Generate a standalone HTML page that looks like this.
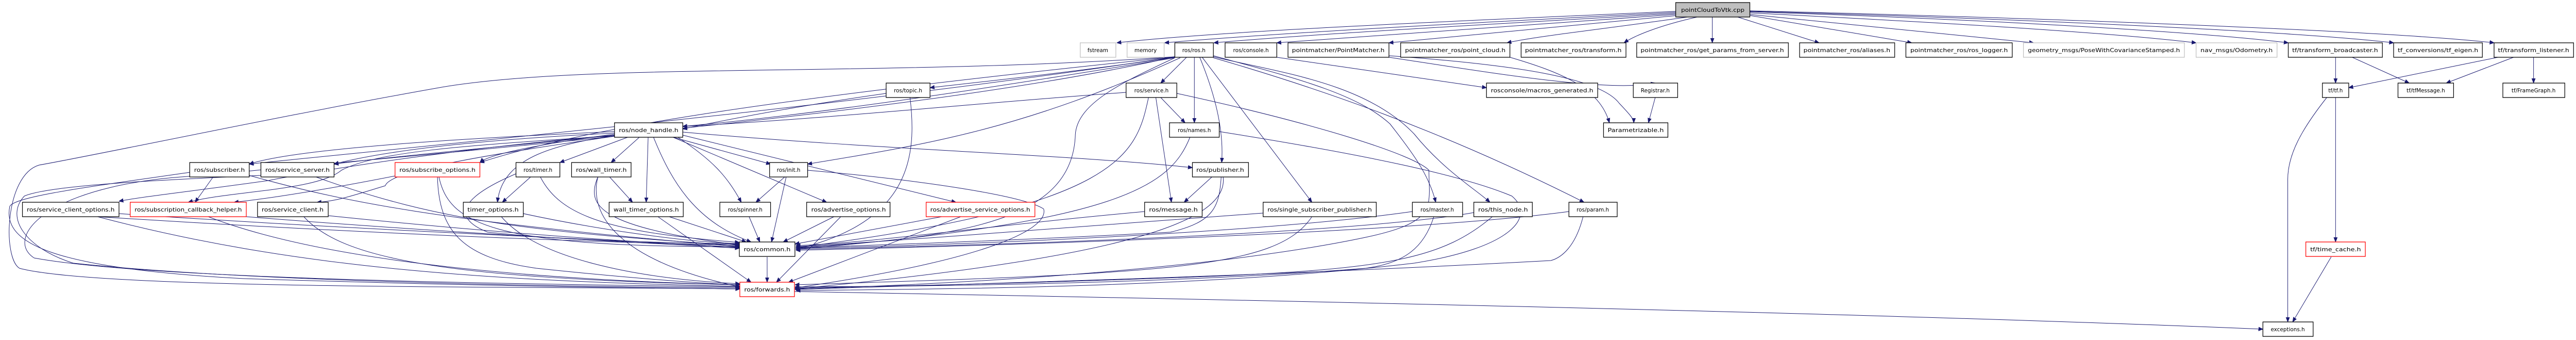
<!DOCTYPE html>
<html><head><meta charset="utf-8"><style>
html,body{margin:0;padding:0;background:#fff;width:100%;height:100%;overflow:hidden;}
svg{position:fixed;left:0;top:0;width:100vw;height:100vh;display:block;overflow:hidden}
text{font-family:"DejaVu Sans","Liberation Sans",sans-serif;font-size:11px;fill:#000;text-anchor:middle}
.n{fill:#fff;stroke:#000;stroke-width:1.3}
.g{fill:#fff;stroke:#bfbfbf;stroke-width:1.3}
.r{fill:#fff;stroke:#ff0000;stroke-width:1.3}
.root{fill:#bfbfbf;stroke:#000;stroke-width:1.3}
path{fill:none;stroke:#191970;stroke-width:1;marker-end:url(#a)}
</style></head><body>
<svg viewBox="0 0 5282 659" preserveAspectRatio="none" xmlns="http://www.w3.org/2000/svg">
<defs><marker id="a" viewBox="0 0 10 10" refX="10" refY="5" markerWidth="9" markerHeight="9" markerUnits="userSpaceOnUse" orient="auto"><path d="M0,1 L10,5 L0,9 z" style="fill:#191970;stroke:#191970;marker-end:none"/></marker></defs>

<g>
<path d="M3436,22 C3000,40 2500,60 2290,83"/>
<path d="M3436,24 C3000,45 2600,65 2388,83"/>
<path d="M3436,26 C3100,45 2700,65 2489,83"/>
<path d="M3436,28 C3100,50 2800,70 2618,83"/>
<path d="M3440,30 C3200,50 3000,70 2848,83"/>
<path d="M3460,33 C3300,55 3150,70 3090,83"/>
<path d="M3480,33 C3400,50 3350,70 3330,83"/>
<path d="M3511,33 L3511,83"/>
<path d="M3563,33 L3730,83"/>
<path d="M3588,30 L3920,83"/>
<path d="M3588,28 L4170,83"/>
<path d="M3588,25 C3900,40 4300,60 4503,83"/>
<path d="M3588,23 C4000,35 4500,60 4692,83"/>
<path d="M3588,22 C4100,35 4700,60 4908,83"/>
<path d="M3588,21 C4200,35 4900,60 5114,83"/>
</g>

<g>
<path d="M2433,111 L2380,161"/>
<path d="M2449,111 L2449,238"/>
<path d="M2460,111 C2490,180 2510,250 2505,315"/>
<path d="M2465,111 L2690,392"/>
<path d="M2488,108 C2650,150 2780,180 2850,240 C2900,300 2930,340 2944,392"/>
<path d="M2488,110 C2620,140 2800,160 2900,260 C2960,330 3030,370 3055,392"/>
<path d="M2488,112 C2700,170 2950,250 3248,392"/>
<path d="M2409,112 C2100,160 1700,220 1400,245"/>
<path d="M2409,111 C2200,140 2000,160 1907,170"/>
<path d="M2420,112 C2100,250 1900,280 1656,318"/>
<path d="M2409,110 C1800,200 900,280 511,318"/>
<path d="M2409,110 C1900,220 1000,280 685,318"/>
<path d="M2409,110 C1500,200 1200,250 984,315"/>
<path d="M2409,112 C2300,160 2210,200 2205,260 C2200,420 2000,460 1632,480"/>
<path d="M2409,110 C1800,150 1200,120 900,170 C600,220 200,300 80,320 C10,340 5,500 40,520 C200,560 1000,555 1517,560"/>
<path d="M2618,111 L3048,170"/>
<path d="M2848,111 C3050,140 3300,180 3394,161"/>
<path d="M2848,108 C3100,125 3280,150 3320,200 C3340,220 3350,230 3350,238"/>
<path d="M3096,111 C3200,140 3280,170 3300,238"/>
</g>

<g>
<path d="M2380,189 L2430,238"/>
<path d="M2370,189 L2402,392"/>
<path d="M2309,179 C2000,200 1700,230 1400,245"/>
<path d="M2413,181 C2700,240 2900,300 2930,330 C2930,400 2950,430 2800,460 C2500,520 2000,550 1630,560"/>
<path d="M2355,189 C2330,300 2300,400 1632,480"/>
<path d="M1817,181 C1600,210 1450,240 1400,250"/>
<path d="M1866,189 C1880,300 1870,430 1632,483"/>
<path d="M2440,266 C2400,360 2300,430 1632,483"/>
<path d="M2500,255 C2800,300 3000,340 3100,380 C3150,420 3100,480 2900,510 C2500,555 2000,560 1632,563"/>
<path d="M3394,189 L3380,238"/>
</g>

<g>
<path d="M1260,255 C900,270 600,290 511,318"/>
<path d="M1260,258 C1000,270 800,290 685,318"/>
<path d="M1260,260 C1100,280 1000,300 984,315"/>
<path d="M1287,266 L1148,315"/>
<path d="M1311,266 L1253,315"/>
<path d="M1329,266 L1325,392"/>
<path d="M1260,262 C1150,280 1030,300 1020,392"/>
<path d="M1380,266 L1580,318"/>
<path d="M1390,266 C1460,310 1490,340 1520,392"/>
<path d="M1380,266 L1695,392"/>
<path d="M1400,262 L1960,392"/>
<path d="M1400,256 C1800,290 2200,300 2445,325"/>
<path d="M1260,264 C1000,300 800,330 790,360 C720,380 690,390 650,392"/>
<path d="M1260,263 C1000,280 780,290 700,330 C650,370 470,370 386,392"/>
<path d="M1260,262 C900,290 600,340 550,350 C400,370 300,380 244,390"/>
<path d="M1340,266 C1380,360 1430,430 1540,469"/>
<path d="M1260,264 C900,300 500,330 430,340 C100,350 5,460 70,500 C300,540 1000,550 1517,556"/>
</g>

<g>
<path d="M437,343 L400,392"/>
<path d="M511,340 C700,390 900,430 1516,478"/>
<path d="M389,334 C200,360 30,380 20,400 C5,470 100,520 500,540 C1000,555 1300,558 1517,560"/>
<path d="M648,343 C900,430 1100,450 1516,476"/>
<path d="M535,340 C300,350 100,360 50,380 C10,420 50,480 150,510 C500,545 1100,555 1517,558"/>
<path d="M810,341 C600,380 500,390 480,392"/>
<path d="M897,343 C900,450 950,500 1100,520 C1300,540 1450,550 1517,552"/>
<path d="M900,343 C920,430 1000,480 1516,478"/>
<path d="M1088,343 L1030,392"/>
<path d="M1060,336 C950,380 920,420 1000,450 C1200,470 1400,470 1516,473"/>
<path d="M1108,343 C1150,420 1250,450 1516,470"/>
<path d="M1226,343 C1200,400 1230,440 1516,475"/>
<path d="M1226,343 C1210,400 1240,500 1517,556"/>
<path d="M1250,343 L1297,392"/>
<path d="M1609,343 L1550,392"/>
<path d="M1612,343 L1582,469"/>
<path d="M1656,330 C1900,350 2100,380 2140,405 C2150,440 2050,500 1630,558"/>
<path d="M2485,343 L2428,392"/>
<path d="M2504,343 C2500,400 2490,430 2400,450 C2000,470 1700,478 1632,480"/>
<path d="M2508,343 C2520,430 2300,500 1630,560"/>
</g>
<g>
<path d="M200,420 C700,450 1200,470 1516,475"/>
<path d="M244,414 C800,450 1300,465 1516,480"/>
<path d="M200,420 C600,520 1000,545 1517,555"/>
<path d="M505,420 C900,450 1300,470 1516,481"/>
<path d="M427,420 C700,520 1200,545 1517,552"/>
<path d="M673,418 C1000,450 1300,470 1516,479"/>
<path d="M623,420 C700,500 900,540 1517,552"/>
<path d="M1073,414 C1200,440 1400,470 1516,472"/>
<path d="M1028,420 C1100,500 1300,540 1517,550"/>
<path d="M1372,420 L1530,469"/>
<path d="M1349,420 L1540,547"/>
<path d="M1536,420 L1558,469"/>
<path d="M1710,420 L1606,469"/>
<path d="M1724,420 L1592,547"/>
<path d="M1931,420 L1630,473"/>
<path d="M1970,420 L1617,547"/>
<path d="M2347,410 C2000,440 1800,470 1632,476"/>
<path d="M2590,413 C2200,440 1800,470 1632,478"/>
<path d="M2690,420 C2620,520 2400,530 1630,552"/>
<path d="M2896,410 C2600,450 2000,475 1632,481"/>
<path d="M2940,420 C2920,480 2880,510 2800,520 C2400,550 1900,555 1630,556"/>
<path d="M3022,412 C2800,450 2100,475 1632,483"/>
<path d="M3060,420 C2960,500 2850,520 2500,535 C2100,550 1800,555 1630,558"/>
<path d="M3217,410 C2900,450 2100,475 1632,485"/>
<path d="M3246,420 C3230,480 3200,500 3180,505 C2600,535 2000,550 1630,561"/>
<path d="M1573,498 L1573,547"/>
<path d="M1629,565 C2500,580 3800,605 4640,638"/>
</g>

<g>
<path d="M4789,111 L4789,161"/>
<path d="M4823,111 L4940,161"/>
<path d="M5122,111 L4816,170"/>
<path d="M5154,111 L5016,161"/>
<path d="M5195,111 L5195,161"/>
<path d="M4789,189 L4789,469"/>
<path d="M4771,189 C4720,250 4690,300 4691,350 L4691,624"/>
<path d="M4780,498 L4701,624"/>
</g>

<g>
<rect class="root" x="3436" y="5" width="152" height="28"/><text x="3512" y="23" textLength="130" lengthAdjust="spacingAndGlyphs">pointCloudToVtk.cpp</text>

<rect class="g" x="2215" y="83" width="73" height="28"/><text x="2251" y="101">fstream</text>
<rect class="g" x="2311" y="83" width="76" height="28"/><text x="2349" y="101">memory</text>
<rect class="n" x="2409" y="83" width="79" height="28"/><text x="2448" y="101">ros/ros.h</text>
<rect class="n" x="2512" y="83" width="106" height="28"/><text x="2565" y="101">ros/console.h</text>
<rect class="n" x="2641" y="83" width="207" height="28"/><text x="2744" y="101" textLength="190" lengthAdjust="spacingAndGlyphs">pointmatcher/PointMatcher.h</text>
<rect class="n" x="2872" y="83" width="224" height="28"/><text x="2984" y="101" textLength="206" lengthAdjust="spacingAndGlyphs">pointmatcher_ros/point_cloud.h</text>
<rect class="n" x="3119" y="83" width="215" height="28"/><text x="3226" y="101" textLength="198" lengthAdjust="spacingAndGlyphs">pointmatcher_ros/transform.h</text>
<rect class="n" x="3356" y="83" width="311" height="28"/><text x="3511" y="101" textLength="294" lengthAdjust="spacingAndGlyphs">pointmatcher_ros/get_params_from_server.h</text>
<rect class="n" x="3690" y="83" width="195" height="28"/><text x="3787" y="101" textLength="178" lengthAdjust="spacingAndGlyphs">pointmatcher_ros/aliases.h</text>
<rect class="n" x="3908" y="83" width="218" height="28"/><text x="4017" y="101" textLength="200" lengthAdjust="spacingAndGlyphs">pointmatcher_ros/ros_logger.h</text>
<rect class="g" x="4149" y="83" width="330" height="28"/><text x="4314" y="101" textLength="312" lengthAdjust="spacingAndGlyphs">geometry_msgs/PoseWithCovarianceStamped.h</text>
<rect class="g" x="4503" y="83" width="166" height="28"/><text x="4586" y="101" textLength="148" lengthAdjust="spacingAndGlyphs">nav_msgs/Odometry.h</text>
<rect class="n" x="4692" y="83" width="193" height="28"/><text x="4788" y="101" textLength="176" lengthAdjust="spacingAndGlyphs">tf/transform_broadcaster.h</text>
<rect class="n" x="4908" y="83" width="182" height="28"/><text x="4999" y="101" textLength="165" lengthAdjust="spacingAndGlyphs">tf_conversions/tf_eigen.h</text>
<rect class="n" x="5114" y="83" width="163" height="28"/><text x="5195" y="101" textLength="146" lengthAdjust="spacingAndGlyphs">tf/transform_listener.h</text>

<rect class="n" x="1817" y="161" width="90" height="28"/><text x="1862" y="179">ros/topic.h</text>
<rect class="n" x="2309" y="161" width="104" height="28"/><text x="2361" y="179">ros/service.h</text>
<rect class="n" x="3048" y="161" width="228" height="28"/><text x="3162" y="179" textLength="210" lengthAdjust="spacingAndGlyphs">rosconsole/macros_generated.h</text>
<rect class="n" x="3349" y="161" width="91" height="28"/><text x="3394" y="179">Registrar.h</text>
<rect class="n" x="4762" y="161" width="54" height="28"/><text x="4789" y="179">tf/tf.h</text>
<rect class="n" x="4917" y="161" width="114" height="28"/><text x="4974" y="179">tf/tfMessage.h</text>
<rect class="n" x="5132" y="161" width="127" height="28"/><text x="5195" y="179">tf/FrameGraph.h</text>

<rect class="n" x="1260" y="238" width="140" height="28"/><text x="1330" y="256" textLength="122" lengthAdjust="spacingAndGlyphs">ros/node_handle.h</text>
<rect class="n" x="2398" y="238" width="102" height="28"/><text x="2449" y="256">ros/names.h</text>
<rect class="n" x="3288" y="238" width="132" height="28"/><text x="3354" y="256" textLength="115" lengthAdjust="spacingAndGlyphs">Parametrizable.h</text>

<rect class="n" x="389" y="315" width="122" height="28"/><text x="450" y="333" textLength="104" lengthAdjust="spacingAndGlyphs">ros/subscriber.h</text>
<rect class="n" x="535" y="315" width="150" height="28"/><text x="610" y="333" textLength="132" lengthAdjust="spacingAndGlyphs">ros/service_server.h</text>
<rect class="r" x="810" y="315" width="174" height="28"/><text x="897" y="333" textLength="156" lengthAdjust="spacingAndGlyphs">ros/subscribe_options.h</text>
<rect class="n" x="1058" y="315" width="90" height="28"/><text x="1103" y="333">ros/timer.h</text>
<rect class="n" x="1172" y="315" width="122" height="28"/><text x="1233" y="333" textLength="104" lengthAdjust="spacingAndGlyphs">ros/wall_timer.h</text>
<rect class="n" x="1578" y="315" width="78" height="28"/><text x="1617" y="333">ros/init.h</text>
<rect class="n" x="2445" y="315" width="115" height="28"/><text x="2502" y="333" textLength="98" lengthAdjust="spacingAndGlyphs">ros/publisher.h</text>

<rect class="n" x="46" y="392" width="198" height="28"/><text x="145" y="410" textLength="180" lengthAdjust="spacingAndGlyphs">ros/service_client_options.h</text>
<rect class="r" x="267" y="392" width="238" height="28"/><text x="386" y="410" textLength="220" lengthAdjust="spacingAndGlyphs">ros/subscription_callback_helper.h</text>
<rect class="n" x="528" y="392" width="145" height="28"/><text x="600" y="410" textLength="127" lengthAdjust="spacingAndGlyphs">ros/service_client.h</text>
<rect class="n" x="950" y="392" width="123" height="28"/><text x="1011" y="410" textLength="105" lengthAdjust="spacingAndGlyphs">timer_options.h</text>
<rect class="n" x="1249" y="392" width="152" height="28"/><text x="1325" y="410" textLength="134" lengthAdjust="spacingAndGlyphs">wall_timer_options.h</text>
<rect class="n" x="1476" y="392" width="104" height="28"/><text x="1528" y="410">ros/spinner.h</text>
<rect class="n" x="1654" y="392" width="171" height="28"/><text x="1740" y="410" textLength="153" lengthAdjust="spacingAndGlyphs">ros/advertise_options.h</text>
<rect class="r" x="1899" y="392" width="223" height="28"/><text x="2010" y="410" textLength="205" lengthAdjust="spacingAndGlyphs">ros/advertise_service_options.h</text>
<rect class="n" x="2347" y="392" width="118" height="28"/><text x="2406" y="410" textLength="100" lengthAdjust="spacingAndGlyphs">ros/message.h</text>
<rect class="n" x="2590" y="392" width="232" height="28"/><text x="2706" y="410" textLength="214" lengthAdjust="spacingAndGlyphs">ros/single_subscriber_publisher.h</text>
<rect class="n" x="2896" y="392" width="103" height="28"/><text x="2947" y="410">ros/master.h</text>
<rect class="n" x="3022" y="392" width="120" height="28"/><text x="3082" y="410" textLength="102" lengthAdjust="spacingAndGlyphs">ros/this_node.h</text>
<rect class="n" x="3217" y="392" width="99" height="28"/><text x="3266" y="410">ros/param.h</text>

<rect class="n" x="1516" y="469" width="114" height="28"/><text x="1573" y="487" textLength="96" lengthAdjust="spacingAndGlyphs">ros/common.h</text>
<rect class="r" x="4728" y="469" width="122" height="28"/><text x="4789" y="487" textLength="104" lengthAdjust="spacingAndGlyphs">tf/time_cache.h</text>

<rect class="r" x="1517" y="547" width="112" height="28"/><text x="1573" y="565" textLength="94" lengthAdjust="spacingAndGlyphs">ros/forwards.h</text>

<rect class="n" x="4640" y="624" width="103" height="28"/><text x="4691" y="642">exceptions.h</text>
</g>
</svg>
</body></html>
